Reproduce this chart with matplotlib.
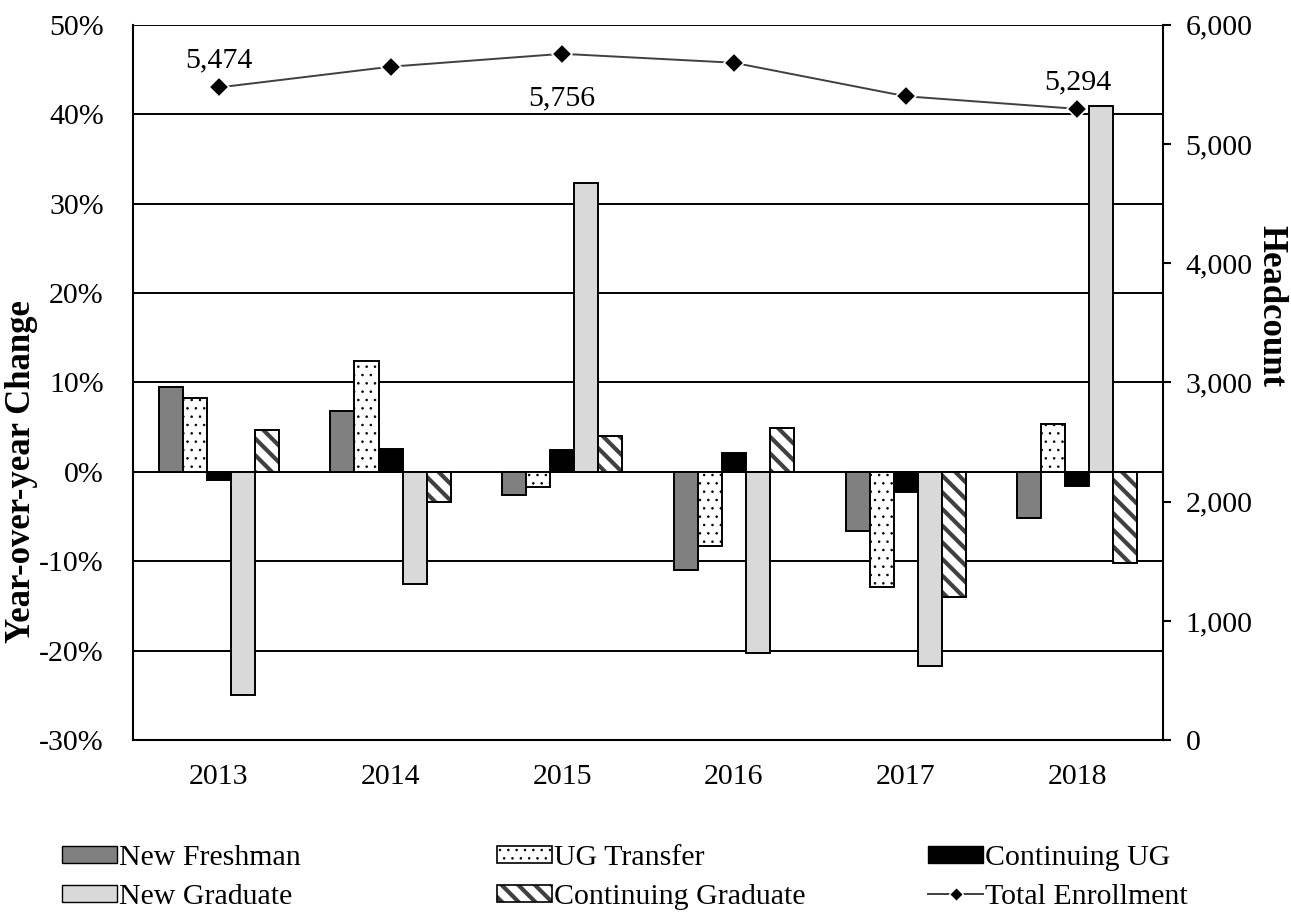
import numpy as np
import matplotlib
matplotlib.use('Agg')
import matplotlib.pyplot as plt
from matplotlib.ticker import FuncFormatter, MultipleLocator
from matplotlib.patches import Patch, Rectangle
from matplotlib.lines import Line2D
from matplotlib.legend_handler import HandlerPatch

# Datos de matrícula: variación interanual (%) y total de estudiantes
years = ['2013', '2014', '2015', '2016', '2017', '2018']
new_freshman = [9.5, 6.8, -2.6, -11.0, -6.6, -5.1]
ug_transfer = [8.3, 12.4, -1.7, -8.3, -12.9, 5.4]
continuing_ug = [-0.9, 2.6, 2.4, 2.1, -2.2, -1.6]
new_graduate = [-24.9, -12.5, 32.3, -20.3, -21.7, 40.9]
continuing_grad = [4.7, -3.4, 4.0, 4.9, -14.0, -10.2]
total_enrollment = [5474, 5648, 5756, 5681, 5400, 5294]
labeled_years = [0, 2, 5]  # puntos con etiqueta de valor

plt.rcParams['font.family'] = ['Liberation Serif', 'DejaVu Serif']
FS = 21.5
FS_TITLE = 25

DOT_LW = 0.6     # puntos pequeños del UG Transfer
STRIPE_LW = 3.0  # rayas gruesas del Continuing Graduate
DOTS = '..'
STRIPES = '\\\\'


def make_hatched(xy, width, height, hatch, hatch_lw, hatch_color):
    with plt.rc_context({'hatch.linewidth': hatch_lw}):
        p = Rectangle(xy, width, height, facecolor='white', edgecolor=hatch_color,
                      linewidth=0, hatch=hatch)
    if hasattr(p, 'set_hatch_linewidth'):
        p.set_hatch_linewidth(hatch_lw)
    return p


def hatched_bar(ax, xs, vals, hatch, hatch_lw, hatch_color, w):
    # relleno rayado debajo, borde negro encima
    for xi, v in zip(xs, vals):
        ax.add_patch(make_hatched((xi - w / 2, 0), w, v, hatch, hatch_lw, hatch_color)).set_zorder(3)
    ax.bar(xs, vals, w, fill=False, edgecolor='black', linewidth=1.4, zorder=4)


class HatchHandler(HandlerPatch):
    def __init__(self, hatch, hatch_lw, hatch_color):
        super().__init__()
        self.spec = (hatch, hatch_lw, hatch_color)

    def create_artists(self, legend, orig_handle, xdescent, ydescent, width, height,
                       fontsize, trans):
        fill = make_hatched((-xdescent, -ydescent), width, height, *self.spec)
        fill.set_transform(trans)
        frame = Rectangle((-xdescent, -ydescent), width, height, fill=False,
                          edgecolor='black', linewidth=1.2, transform=trans)
        return [fill, frame]


fig = plt.figure(figsize=(12.91, 9.15), dpi=100)
ax = fig.add_axes([0.103, 0.191, 0.798, 0.782])
ax2 = ax.twinx()

x = np.arange(len(years))
w = 0.14
offsets = np.arange(5) * w - 2 * w

ax.set_axisbelow(True)
ax.yaxis.grid(True, color='black', linewidth=1.4)
ax.xaxis.grid(False)

ax.bar(x + offsets[0], new_freshman, w, color='#808080', edgecolor='black', linewidth=1.4, zorder=3)
hatched_bar(ax, x + offsets[1], ug_transfer, DOTS, DOT_LW, 'black', w)
ax.bar(x + offsets[2], continuing_ug, w, color='black', edgecolor='black', linewidth=1.4, zorder=3)
ax.bar(x + offsets[3], new_graduate, w, color='#d9d9d9', edgecolor='black', linewidth=1.4, zorder=3)
hatched_bar(ax, x + offsets[4], continuing_grad, STRIPES, STRIPE_LW, '#404040', w)

ax.set_ylim(-30, 50)
ax.yaxis.set_major_locator(MultipleLocator(10))
ax.yaxis.set_major_formatter(FuncFormatter(lambda v, p: f'{v:.0f}%'))
ax.set_xlim(-0.5, len(years) - 0.5)
ax.set_xticks(x)
ax.set_xticklabels(years)
ax.tick_params(axis='x', length=0, labelsize=FS, pad=17)
ax.tick_params(axis='y', length=0, labelsize=FS, pad=21)
ax.set_ylabel('Year-over-year Change', fontsize=FS_TITLE, fontweight='bold',
              ha='center', va='center')
ax.yaxis.set_label_coords(-0.108, 0.376)

for side in ['top', 'right']:
    ax.spines[side].set_visible(False)
ax.spines['left'].set_linewidth(1.5)
ax.spines['bottom'].set_linewidth(1.5)

# Línea del total en el eje derecho
ax2.plot(x, total_enrollment, color='#404040', linewidth=1.4, marker='D', markersize=10,
         markerfacecolor='black', markeredgecolor='white', markeredgewidth=1.2, zorder=5)
ax2.set_ylim(0, 6000)
ax2.yaxis.set_major_locator(MultipleLocator(1000))
ax2.yaxis.set_major_formatter(FuncFormatter(lambda v, p: f'{v:,.0f}'))
ax2.tick_params(axis='y', direction='out', length=6, width=1.5, labelsize=FS, pad=10)
ax2.set_ylabel('Headcount', fontsize=FS_TITLE, fontweight='bold', rotation=270,
               ha='center', va='center')
ax2.yaxis.set_label_coords(1.105, 0.607)
for side in ['top', 'left', 'bottom']:
    ax2.spines[side].set_visible(False)
ax2.spines['right'].set_linewidth(1.5)

for i in labeled_years:
    v = total_enrollment[i]
    dy = -23 if i == 2 else 10
    ax2.annotate(f'{v:,}', (x[i], v), xytext=(0, dy), textcoords='offset points',
                 ha='center', va='top' if dy < 0 else 'bottom', fontsize=FS)

# Leyenda: tres columnas de dos filas debajo del gráfico
h_dots = Patch(label='UG Transfer')
h_stripes = Patch(label='Continuing Graduate')
hmap = {h_dots: HatchHandler(DOTS, DOT_LW, 'black'),
        h_stripes: HatchHandler(STRIPES, STRIPE_LW, '#404040')}

legend_cols = [
    [Patch(facecolor='#808080', edgecolor='black', label='New Freshman'),
     Patch(facecolor='#d9d9d9', edgecolor='black', label='New Graduate')],
    [h_dots, h_stripes],
    [Patch(facecolor='black', edgecolor='black', label='Continuing UG'),
     Line2D([], [], color='#404040', linewidth=1.4, marker='D', markersize=7,
            markerfacecolor='black', markeredgecolor='white', label='Total Enrollment')],
]
legend_x = [0.048, 0.385, 0.719]
for hs, lx in zip(legend_cols, legend_x):
    fig.legend(handles=hs, handler_map=hmap, loc='upper left', bbox_to_anchor=(lx, 0.076),
               frameon=False, fontsize=FS, handlelength=1.85, handleheight=0.5,
               handletextpad=0.05, labelspacing=0.42, borderpad=0, borderaxespad=0)

fig.savefig('out.png', dpi=100)
